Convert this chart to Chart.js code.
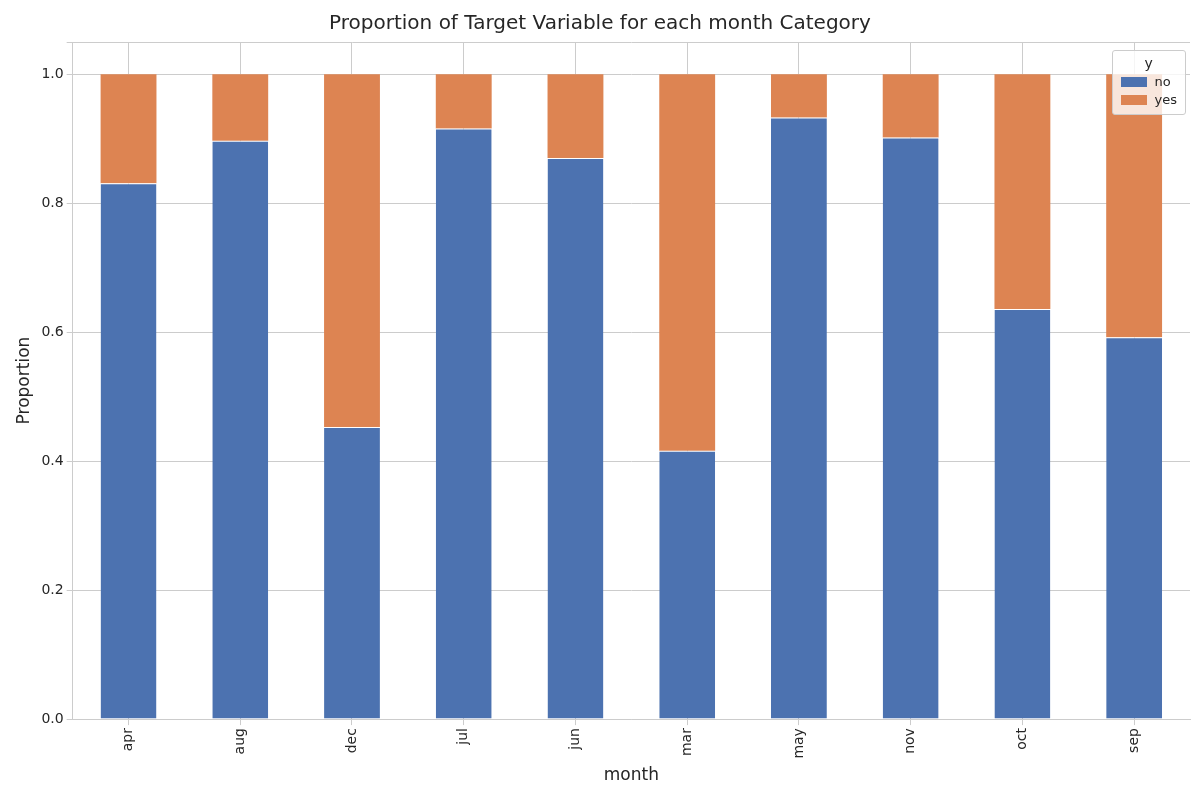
<!DOCTYPE html>
<html><head><meta charset="utf-8">
<script src="https://cdn.jsdelivr.net/npm/chart.js@4"></script>
<style>
body{margin:0;background:#fff;font-family:"DejaVu Sans",sans-serif}
#wrap{position:relative;width:1200px;height:800px}
#lg{position:absolute;right:14px;top:50px;background:rgba(255,255,255,0.8);border:1px solid #ccc;border-radius:3px;padding:4px 8px;font-size:13px;color:#262626}
#lg .t{text-align:center;margin-bottom:3px;font-size:14px}
#lg .r{display:flex;align-items:center;margin:3px 0}
#lg .s{width:26px;height:10px;margin-right:8px}
</style></head><body>
<div id="wrap"><canvas id="c" width="1200" height="800"></canvas>
<div id="lg"><div class="t">y</div>
<div class="r"><span class="s" style="background:#4c72b0"></span>no</div>
<div class="r"><span class="s" style="background:#dd8452"></span>yes</div></div></div>
<script>
const months=["apr","aug","dec","jul","jun","mar","may","nov","oct","sep"];
const noVals=[0.831,0.897,0.453,0.916,0.870,0.416,0.933,0.902,0.636,0.592];
const yesVals=noVals.map(v=>+(1-v).toFixed(3));
Chart.defaults.font.family='"DejaVu Sans", sans-serif';
Chart.defaults.color='#262626';
new Chart(document.getElementById('c'),{type:'bar',
data:{labels:months,datasets:[
{label:'no',data:noVals,backgroundColor:'#4c72b0',borderColor:'#fff',borderWidth:{top:1},categoryPercentage:1,barPercentage:0.5},
{label:'yes',data:yesVals,backgroundColor:'#dd8452',categoryPercentage:1,barPercentage:0.5}]},
options:{responsive:false,animation:false,
layout:{padding:{left:10,right:10,top:0,bottom:10}},
plugins:{legend:{display:false},tooltip:{enabled:false},
title:{display:true,text:'Proportion of Target Variable for each month Category',font:{size:20,weight:'normal'},padding:{top:12,bottom:6}}},
scales:{
x:{stacked:true,grid:{color:'#cccccc',offset:false,drawTicks:true,tickLength:6},border:{color:'#cccccc'},
ticks:{minRotation:90,maxRotation:90,font:{size:14}},title:{display:true,text:'month',font:{size:17}}},
y:{stacked:true,min:0,max:1.05,grid:{color:'#cccccc',tickLength:6},border:{color:'#cccccc'},
ticks:{stepSize:0.2,font:{size:14},callback:v=>(Math.abs(v*5-Math.round(v*5))<1e-6)?v.toFixed(1):''},
title:{display:true,text:'Proportion',font:{size:17}}}}}});
</script></body></html>
